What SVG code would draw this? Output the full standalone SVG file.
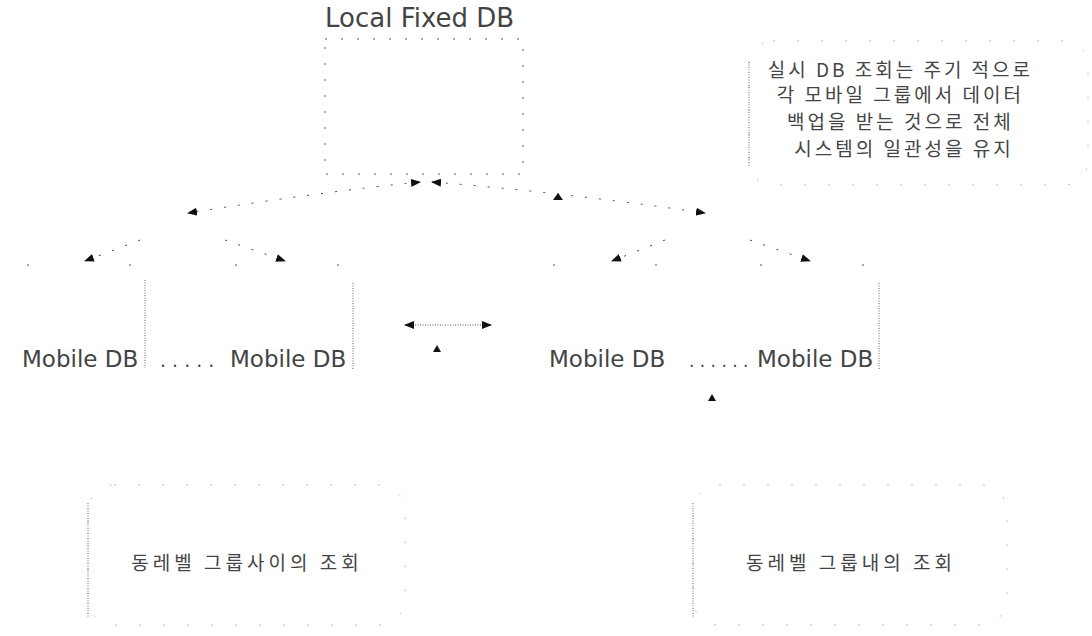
<svg xmlns="http://www.w3.org/2000/svg" width="1092" height="636" viewBox="0 0 1092 636">
<style>
.lbl{font-family:"DejaVu Sans","Liberation Sans",sans-serif;fill:#444}
.ko{font-family:"Noto Sans CJK KR","DejaVu Sans",sans-serif;fill:#444}
.sparse{fill:none;stroke:#555;stroke-width:1;stroke-dasharray:2 14}
.faint{fill:none;stroke:#bbb;stroke-width:1;stroke-dasharray:2 22}
.top{fill:none;stroke:#555;stroke-width:1;stroke-dasharray:2 100}
.dense{fill:none;stroke:#666;stroke-width:1;stroke-dasharray:1 1.5}
.conn{fill:none;stroke:#444;stroke-width:1;stroke-dasharray:2 12}
</style>
<defs>
<marker id="ah" markerWidth="10" markerHeight="8" refX="9" refY="4" orient="auto" markerUnits="userSpaceOnUse">
<path d="M0,0 L10,4 L0,8 z" fill="#111"/>
</marker>
<marker id="ahs" markerWidth="10" markerHeight="8" refX="1" refY="4" orient="auto" markerUnits="userSpaceOnUse">
<path d="M10,0 L0,4 L10,8 z" fill="#111"/>
</marker>
</defs>
<rect width="1092" height="636" fill="#fff"/>
<g id="local-fixed-db">
<text class="lbl" x="325" y="27" font-size="26">Local Fixed DB</text>
<rect class="sparse" x="325" y="39" width="198" height="135"/>
</g>
<g id="note-top">
<rect class="faint" x="749" y="41" width="339" height="144" rx="24"/>
<line class="dense" x1="749" y1="62" x2="749" y2="166"/>
<text class="ko" font-size="19" letter-spacing="3" text-anchor="middle">
<tspan x="904" y="77">실시 DB 조회는 주기 적으로</tspan>
<tspan x="904" y="102">각 모바일 그룹에서 데이터</tspan>
<tspan x="904" y="129">백업을 받는 것으로 전체</tspan>
<tspan x="904" y="156">시스템의 일관성을 유지</tspan>
</text>
</g>
<g id="mobile-db-1">
<line class="top" x1="27" y1="265" x2="145" y2="265"/>
<line class="dense" x1="145" y1="280" x2="145" y2="368"/>
<text class="lbl" x="22" y="367" font-size="23">Mobile DB</text>
</g>
<g id="dots-left"><text class="lbl" x="160" y="367" font-size="19">. . . . .</text></g>
<g id="mobile-db-2">
<line class="top" x1="235" y1="265" x2="353" y2="265"/>
<line class="dense" x1="353" y1="283" x2="353" y2="370"/>
<text class="lbl" x="230" y="367" font-size="23">Mobile DB</text>
</g>
<g id="mobile-db-3">
<line class="top" x1="553" y1="265" x2="665" y2="265"/>
<text class="lbl" x="549" y="367" font-size="23">Mobile DB</text>
</g>
<g id="dots-right"><text class="lbl" x="689" y="367" font-size="17">. . . . . .</text></g>
<g id="mobile-db-4">
<line class="top" x1="760" y1="265" x2="880" y2="265"/>
<line class="dense" x1="879" y1="283" x2="879" y2="370"/>
<text class="lbl" x="757" y="367" font-size="23">Mobile DB</text>
</g>
<g id="note-bottom-left">
<rect class="faint" x="88" y="485" width="317" height="140" rx="26"/>
<line class="dense" x1="88" y1="503" x2="88" y2="617"/>
<text class="ko" x="247" y="570" font-size="19" letter-spacing="4" text-anchor="middle">동레벨 그룹사이의 조회</text>
</g>
<g id="note-bottom-right">
<rect class="faint" x="693" y="485" width="314" height="140" rx="26"/>
<line class="dense" x1="693" y1="503" x2="693" y2="617"/>
<text class="ko" x="851" y="570" font-size="19" letter-spacing="4" text-anchor="middle">동레벨 그룹내의 조회</text>
</g>
<g id="connectors">
<path class="conn" d="M420,182 Q320,192 188,213" marker-start="url(#ahs)" marker-end="url(#ah)"/>
<path class="conn" d="M432,182 Q560,192 705,213" marker-start="url(#ahs)" marker-end="url(#ah)"/>
<path class="conn" d="M140,240 L85,261" marker-end="url(#ah)"/>
<path class="conn" d="M225,240 L285,261" marker-end="url(#ah)"/>
<path class="conn" d="M665,240 L612,261" marker-end="url(#ah)"/>
<path class="conn" d="M750,240 L810,261" marker-end="url(#ah)"/>
<line x1="405" y1="325" x2="491" y2="325" stroke="#555" stroke-width="1" stroke-dasharray="1 1.5" marker-start="url(#ahs)" marker-end="url(#ah)"/>
<path d="M433,352 L437,345 L441,352 z" fill="#111"/>
<path d="M708,401 L712,394 L716,401 z" fill="#111"/>
<path d="M553,200 L558,193 L563,200 z" fill="#111"/>
</g>
</svg>
